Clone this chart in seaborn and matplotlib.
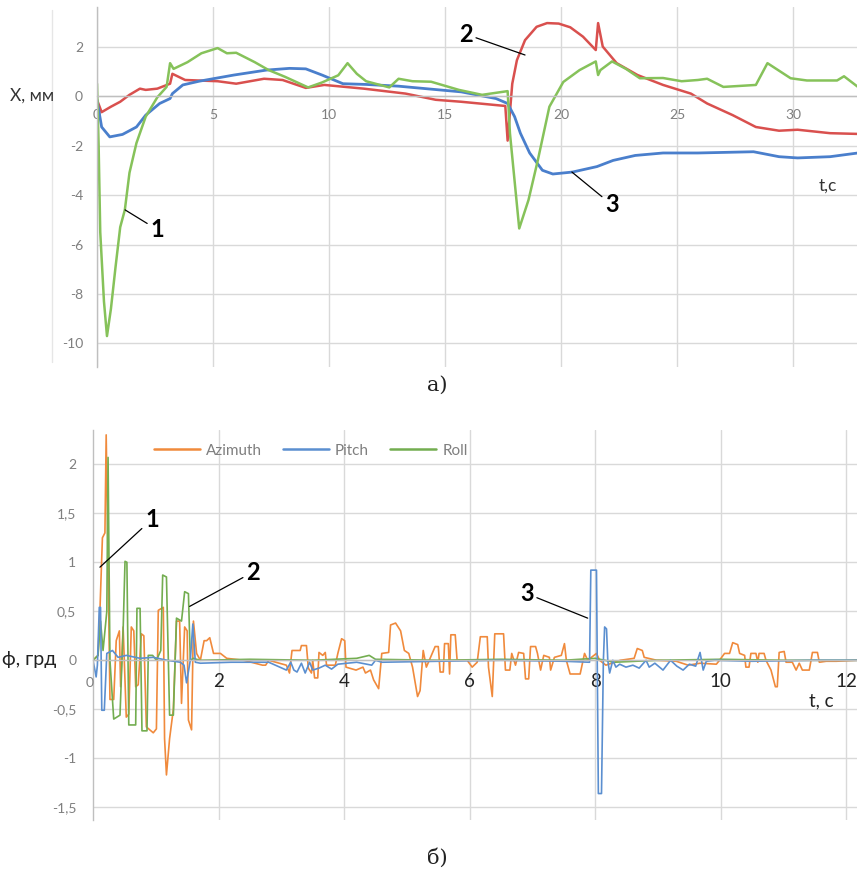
import matplotlib
matplotlib.use('Agg')
import matplotlib.pyplot as plt
import seaborn as sns
from matplotlib.lines import Line2D

# ---------------- data: panel a) (X, mm vs t, s) ----------------
green_t = [0, 0.07, 0.14, 0.3, 0.43, 0.6, 0.8, 1.0, 1.2, 1.4, 1.7, 2.1, 2.6, 3.0, 3.15, 3.3,
           3.9, 4.5, 5.2, 5.6, 6.0, 6.8, 7.4, 8.1, 9.1, 9.7, 10.4, 10.8, 11.2, 11.6, 12.6,
           13.0, 13.6, 14.4, 15.6, 16.6, 17.7, 17.8, 18.2, 18.6, 19.0, 19.5, 20.1, 20.8,
           21.5, 21.6, 21.7, 22.2, 22.8, 23.4, 24.4, 25.2, 25.9, 26.3, 27.0, 28.4, 28.9,
           29.9, 30.6, 31.9, 32.2, 32.8]
green_X = [0.5, -2.0, -5.5, -8.3, -9.7, -8.6, -6.9, -5.3, -4.6, -3.1, -1.9, -0.83, -0.05,
           0.37, 1.33, 1.1, 1.37, 1.73, 1.94, 1.73, 1.75, 1.37, 1.05, 0.78, 0.35, 0.55, 0.84,
           1.33, 0.9, 0.6, 0.35, 0.7, 0.6, 0.58, 0.25, 0.05, 0.2, -1.5, -5.35, -4.2, -2.6,
           -0.43, 0.57, 1.05, 1.4, 0.85, 1.05, 1.4, 1.1, 0.72, 0.73, 0.6, 0.65, 0.7, 0.37,
           0.45, 1.33, 0.72, 0.63, 0.63, 0.8, 0.37]

red_t = [0, 0.2, 0.6, 1.0, 1.4, 1.85, 2.1, 2.6, 3.15, 3.25, 3.8, 5.2, 6.0, 7.2, 8.0, 9.0,
         9.8, 11.5, 13.3, 14.6, 15.7, 17.6, 17.7, 17.9, 18.1, 18.45, 18.95, 19.4, 19.9,
         20.4, 20.95, 21.5, 21.6, 21.8, 22.4, 23.3, 24.4, 25.6, 26.3, 27.4, 28.4, 29.4,
         30.2, 31.6, 32.8]
red_X = [-0.15, -0.65, -0.43, -0.23, 0.05, 0.3, 0.25, 0.3, 0.5, 0.9, 0.65, 0.6, 0.5, 0.7,
         0.65, 0.33, 0.45, 0.3, 0.1, -0.15, -0.23, -0.4, -1.8, 0.5, 1.45, 2.26, 2.8, 2.95,
         2.93, 2.78, 2.4, 1.86, 2.95, 2.0, 1.33, 0.85, 0.45, 0.1, -0.3, -0.77, -1.25, -1.4,
         -1.36, -1.5, -1.53]

blue_t = [0, 0.2, 0.55, 1.1, 1.7, 2.1, 2.7, 3.15, 3.25, 3.7, 4.4, 5.9, 7.3, 8.3, 9.0, 9.7,
          10.6, 11.6, 13.0, 14.4, 15.7, 17.2, 17.7, 18.0, 18.25, 18.65, 19.2, 19.65, 20.5,
          21.55, 22.25, 23.2, 24.4, 25.9, 28.3, 29.4, 30.2, 31.6, 32.8]
blue_X = [-0.15, -1.25, -1.65, -1.55, -1.25, -0.77, -0.3, -0.1, 0.1, 0.45, 0.6, 0.85, 1.05,
          1.12, 1.1, 0.85, 0.5, 0.47, 0.4, 0.28, 0.17, -0.1, -0.3, -0.83, -1.5, -2.3, -3.0,
          -3.15, -3.07, -2.85, -2.6, -2.4, -2.3, -2.3, -2.25, -2.45, -2.5, -2.45, -2.3]

a_yticks = [-10, -8, -6, -4, -2, 0, 2]
a_xticks = [0, 5, 10, 15, 20, 25, 30]

# ---------------- data: panel б) (phi, deg vs t, s) ----------------
az_t = [0, 0.08, 0.11, 0.15, 0.19, 0.21, 0.24, 0.27, 0.33, 0.37, 0.42, 0.44, 0.48, 0.53,
        0.57, 0.61, 0.65, 0.68, 0.72, 0.77, 0.81, 0.85, 0.96, 1.01, 1.04, 1.12, 1.14, 1.17,
        1.22, 1.28, 1.33, 1.38, 1.41, 1.46, 1.50, 1.52, 1.57, 1.60, 1.65, 1.71, 1.77, 1.81,
        1.86, 1.92, 2.03, 2.13,
        2.4, 2.7, 2.75, 2.8, 3.08, 3.13, 3.17, 3.3, 3.32, 3.4, 3.43, 3.48, 3.5, 3.53, 3.58,
        3.6, 3.66, 3.7, 3.72, 3.86, 3.9, 3.96, 4.01, 4.03, 4.19, 4.3, 4.34, 4.42, 4.47,
        4.55, 4.6, 4.71, 4.74, 4.82, 4.9, 4.96, 5.03, 5.09, 5.17,
        5.21, 5.26, 5.31, 5.39, 5.45, 5.5, 5.53, 5.58, 5.6, 5.66, 5.68, 5.7, 5.77, 5.8,
        5.96, 6.04, 6.12, 6.17, 6.28, 6.3, 6.36, 6.4, 6.54, 6.57, 6.64, 6.67, 6.73, 6.78,
        6.86, 6.89, 6.94, 6.97, 7.05, 7.08, 7.13, 7.18, 7.27, 7.29, 7.35, 7.46, 7.51, 7.54,
        7.6, 7.76, 7.83, 7.88, 8.02, 8.07, 8.17,
        8.4, 8.62, 8.67, 8.75, 8.78, 8.98, 9.29, 9.48, 9.67, 9.93, 9.98, 10.06, 10.14,
        10.19, 10.27, 10.3, 10.38, 10.4, 10.45, 10.48, 10.56, 10.59, 10.61, 10.69, 10.72,
        10.8, 10.87, 10.9, 10.93, 11.01, 11.04, 11.14, 11.2, 11.25, 11.3, 11.41, 11.46,
        11.54, 11.57, 11.68, 11.84, 12.17]
az_v = [0, 0.05, 0.5, 1.25, 1.3, 2.3, 1.0, -0.4, -0.4, 0.2, 0.3, -0.27, 0.34, -0.58,
        -0.55, 0.34, 0.3, -0.27, -0.25, 0.27, 0.25, -0.68, -0.74, -0.7, 0.51, 0.54, -0.8,
        -1.17, -0.8, -0.5, 0.4, 0.4, -0.44, 0.34, 0.3, -0.61, -0.71, 0.4, 0.07, 0.0, 0.2,
        0.2, 0.23, 0.07, 0.07, 0.02,
        0.0, -0.05, -0.05, 0.0, -0.05, -0.13, 0.1, 0.1, 0.15, 0.15, -0.08, -0.13, 0.0,
        -0.18, -0.18, 0.08, 0.05, 0.08, -0.05, -0.05, 0.07, 0.22, 0.2, -0.07, -0.1, -0.07,
        -0.13, -0.1, -0.2, -0.29, 0.07, 0.08, 0.36, 0.38, 0.3, 0.1, 0.07, -0.07, -0.37,
        -0.31, 0.1, -0.07, 0.05, 0.14, 0.14, -0.12, -0.12, 0.17, 0.17, -0.14, 0.26, 0.26,
        0.0, 0.0, -0.07, -0.02, 0.24, 0.24, -0.07, -0.37, 0.27, 0.27, -0.1, -0.1, 0.07,
        -0.05, 0.08, 0.07, -0.19, -0.19, 0.14, 0.14, 0.07, -0.1, 0.05, 0.03, -0.1, 0.03,
        0.05, 0.17, 0.0, -0.14, -0.14, 0.07, 0.0, 0.07, 0.0, -0.05,
        0.0, 0.02, 0.12, 0.1, 0.03, 0.0, -0.01, -0.05, -0.03, -0.04, 0.0, 0.07, 0.07, 0.18,
        0.16, 0.07, 0.05, -0.07, -0.07, 0.07, 0.07, -0.02, 0.07, 0.07, 0.0, -0.1, -0.27,
        -0.27, 0.08, 0.09, -0.02, -0.02, -0.1, -0.03, -0.1, -0.1, 0.08, 0.08, -0.02, -0.01,
        -0.01, 0.0]

pitch_t = [0, 0.03, 0.05, 0.07, 0.1, 0.12, 0.14, 0.18, 0.22, 0.31, 0.4, 0.53, 0.75, 0.96,
           1.18, 1.39, 1.45, 1.49, 1.55, 1.59, 1.63, 1.71, 2.2, 2.8, 3.08, 3.15, 3.2, 3.25,
           3.32, 3.38, 3.45, 3.5, 3.6, 3.7, 3.8, 3.9, 4.2, 4.44, 4.5, 4.6, 5.5, 6.5, 7.5,
           7.91, 7.93, 8.02, 8.05, 8.1, 8.13, 8.15, 8.18, 8.2, 8.23, 8.28, 8.33, 8.39, 8.49,
           8.6, 8.7, 8.81, 8.86, 8.95, 9.08, 9.2, 9.3, 9.4, 9.5, 9.6, 9.67, 9.72, 9.77, 9.9,
           10.5, 11.5, 12.17]
pitch_v = [0, -0.1, -0.17, -0.05, 0.54, 0.54, -0.51, -0.51, 0.07, 0.1, 0.03, 0.05, 0.02,
           0.03, 0.0, -0.02, -0.05, -0.23, 0.0, 0.37, -0.02, -0.03, -0.02, -0.02, -0.1,
           -0.02, -0.1, -0.12, -0.03, -0.13, -0.02, -0.1, -0.08, -0.05, -0.09, -0.04, -0.02,
           -0.05, 0.0, -0.02, -0.01, 0.0, -0.01, -0.02, 0.92, 0.92, -1.36, -1.36, 0.0, 0.34,
           0.32, 0.0, -0.13, 0.0, -0.07, -0.04, -0.07, -0.05, -0.08, 0.0, -0.07, -0.03,
           -0.1, 0.0, -0.06, -0.1, -0.04, -0.06, 0.08, -0.1, -0.01, 0.0, -0.01, 0.0, 0.0]

roll_t = [0, 0.08, 0.12, 0.16, 0.19, 0.22, 0.24, 0.27, 0.33, 0.43, 0.48, 0.51, 0.54, 0.57,
          0.68, 0.7, 0.75, 0.78, 0.86, 0.88, 0.95, 1.01, 1.08, 1.11, 1.17, 1.22, 1.28, 1.33,
          1.41, 1.46, 1.52, 1.55, 1.6, 1.7, 2.5, 3.5, 4.2, 4.4, 4.5, 5.5, 6.5, 7.5, 8.0,
          8.3, 9.0, 10.0, 11.0, 12.17]
roll_v = [0, 0.05, 0.4, 0.1, 0.3, 0.5, 2.07, 0.0, -0.6, -0.56, 0.31, 1.01, 1.0, -0.66,
          -0.66, 0.53, 0.53, -0.72, -0.72, 0.05, 0.05, 0.0, 0.1, 0.87, 0.85, -0.56, -0.56,
          0.43, 0.4, 0.7, 0.68, 0.0, 0.02, 0.0, 0.01, 0.0, 0.02, 0.05, 0.01, 0.0, 0.01, 0.0,
          0.02, -0.02, 0.0, 0.01, 0.0, 0.0]

b_yticks = [-1.5, -1, -0.5, 0, 0.5, 1, 1.5, 2]
b_ylabels = ['-1,5', '-1', '-0,5', '0', '0,5', '1', '1,5', '2']
b_xticks = [2, 4, 6, 8, 10, 12]
series_names = ['Azimuth', 'Pitch', 'Roll']

for a, b in [(green_t, green_X), (red_t, red_X), (blue_t, blue_X), (az_t, az_v),
             (pitch_t, pitch_v), (roll_t, roll_v)]:
    assert len(a) == len(b), (len(a), len(b))

# ---------------- figure ----------------
sns.set_style('white')
plt.rcParams['font.family'] = ['Lato', 'DejaVu Sans']

W, H = 857, 876
fig = plt.figure(figsize=(W / 100, H / 100), dpi=100)


def rect(l, t, r, b):
    return [l / W, 1 - b / H, (r - l) / W, (b - t) / H]


GRID = '#d9d9d9'
AXC = '#bfbfbf'
TICKC = '#7f7f7f'

# ---- panel a ----
ax1 = fig.add_axes(rect(97, 7, 857, 367))
ax1.set_xlim(0, 32.76)
ax1.set_ylim(-10.95, 3.6)
ax1.set_yticks(a_yticks)
ax1.set_yticklabels([str(v) for v in a_yticks])
ax1.set_xticks(a_xticks)
ax1.set_xticklabels([str(v) for v in a_xticks])
ax1.grid(True, color=GRID, lw=1.0)
ax1.set_axisbelow(True)
for s in ['top', 'right']:
    ax1.spines[s].set_visible(False)
ax1.spines['bottom'].set_position(('data', 0))
for s in ['bottom', 'left']:
    ax1.spines[s].set_color(AXC)
    ax1.spines[s].set_linewidth(1.0)
ax1.tick_params(axis='both', length=0, labelsize=10, labelcolor=TICKC)
ax1.tick_params(axis='x', pad=9)
ax1.tick_params(axis='y', pad=10)

sns.lineplot(x=red_t, y=red_X, ax=ax1, color='#d9504e', lw=1.8, estimator=None, sort=False, legend=False)
sns.lineplot(x=blue_t, y=blue_X, ax=ax1, color='#4a7fcc', lw=2.0, estimator=None, sort=False, legend=False)
sns.lineplot(x=green_t, y=green_X, ax=ax1, color='#86c25a', lw=1.8, estimator=None, sort=False, legend=False)
ax1.set_xlabel('')
ax1.set_ylabel('')

fig.add_artist(Line2D([52 / W, 52 / W], [1 - 10 / H, 1 - 362 / H], color='#e6e6e6', lw=1))
fig.text(10 / W, 1 - 96 / H, 'X, мм', ha='left', va='center', fontsize=12.5, color='#333333')
ax1.text(31.5, -3.6, 't,c', ha='center', va='center', fontsize=12.5, color='#333333')

ann_kw = dict(fontsize=17, fontweight='bold', color='black', ha='center', va='center')
arrow_kw = dict(arrowstyle='-', color='black', lw=0.9, shrinkA=0, shrinkB=0)
ax1.annotate('1', xy=(1.21, -4.6), xytext=(2.6, -5.4), arrowprops=arrow_kw, **ann_kw)
ax1.annotate('2', xy=(18.45, 1.66), xytext=(15.9, 2.5), arrowprops=arrow_kw, **ann_kw)
ax1.annotate('3', xy=(20.47, -3.07), xytext=(22.2, -4.4), arrowprops=arrow_kw, **ann_kw)

# ---- panel б ----
ax2 = fig.add_axes(rect(93, 430, 857, 820))
ax2.set_xlim(0, 12.17)
ax2.set_ylim(-1.63, 2.35)
ax2.set_yticks(b_yticks)
ax2.set_yticklabels(b_ylabels)
ax2.set_xticks(b_xticks)
ax2.set_xticklabels([str(v) for v in b_xticks])
ax2.grid(True, color=GRID, lw=1.0)
ax2.set_axisbelow(True)
for s in ['top', 'right']:
    ax2.spines[s].set_visible(False)
ax2.spines['bottom'].set_position(('data', 0))
for s in ['bottom', 'left']:
    ax2.spines[s].set_color(AXC)
    ax2.spines[s].set_linewidth(1.0)
ax2.tick_params(axis='y', length=0, labelsize=10, labelcolor=TICKC, pad=12)
ax2.tick_params(axis='x', length=0, labelsize=13.5, labelcolor='#222222', pad=9)

C_AZ, C_PI, C_RO = '#f08a3c', '#5b8fd0', '#73ad50'
sns.lineplot(x=az_t, y=az_v, ax=ax2, color=C_AZ, lw=1.2, estimator=None, sort=False, legend=False)
sns.lineplot(x=roll_t, y=roll_v, ax=ax2, color=C_RO, lw=1.2, estimator=None, sort=False, legend=False)
sns.lineplot(x=pitch_t, y=pitch_v, ax=ax2, color=C_PI, lw=1.2, estimator=None, sort=False, legend=False)
ax2.set_xlabel('')
ax2.set_ylabel('')

handles = [Line2D([], [], color=c, lw=1.8) for c in (C_AZ, C_PI, C_RO)]
ax2.legend(handles, series_names, loc='upper center', bbox_to_anchor=(0.285, 1.0), ncol=3,
           frameon=False, fontsize=11, labelcolor=TICKC, handlelength=3.0,
           columnspacing=1.4, handletextpad=0.4)

ax2.text(-0.05, -0.23, '0', ha='center', va='center', fontsize=10, color=TICKC)
fig.text(2 / W, 1 - 660 / H, 'ф, грд', ha='left', va='center', fontsize=14, color='#222222')
ax2.text(11.6, -0.41, 't, c', ha='center', va='center', fontsize=13.5, color='#222222')

ax2.annotate('1', xy=(0.11, 0.95), xytext=(0.94, 1.44), arrowprops=arrow_kw, **ann_kw)
ax2.annotate('2', xy=(1.54, 0.55), xytext=(2.55, 0.9), arrowprops=arrow_kw, **ann_kw)
ax2.annotate('3', xy=(7.88, 0.43), xytext=(6.91, 0.68), arrowprops=arrow_kw, **ann_kw)

# ---- captions ----
fig.text(437 / W, 1 - 385 / H, 'а)', ha='center', va='center', fontsize=15,
         family=['DejaVu Serif'], color='#222222')
fig.text(437 / W, 1 - 858 / H, 'б)', ha='center', va='center', fontsize=15,
         family=['DejaVu Serif'], color='#222222')

fig.savefig('out.png', dpi=100)
